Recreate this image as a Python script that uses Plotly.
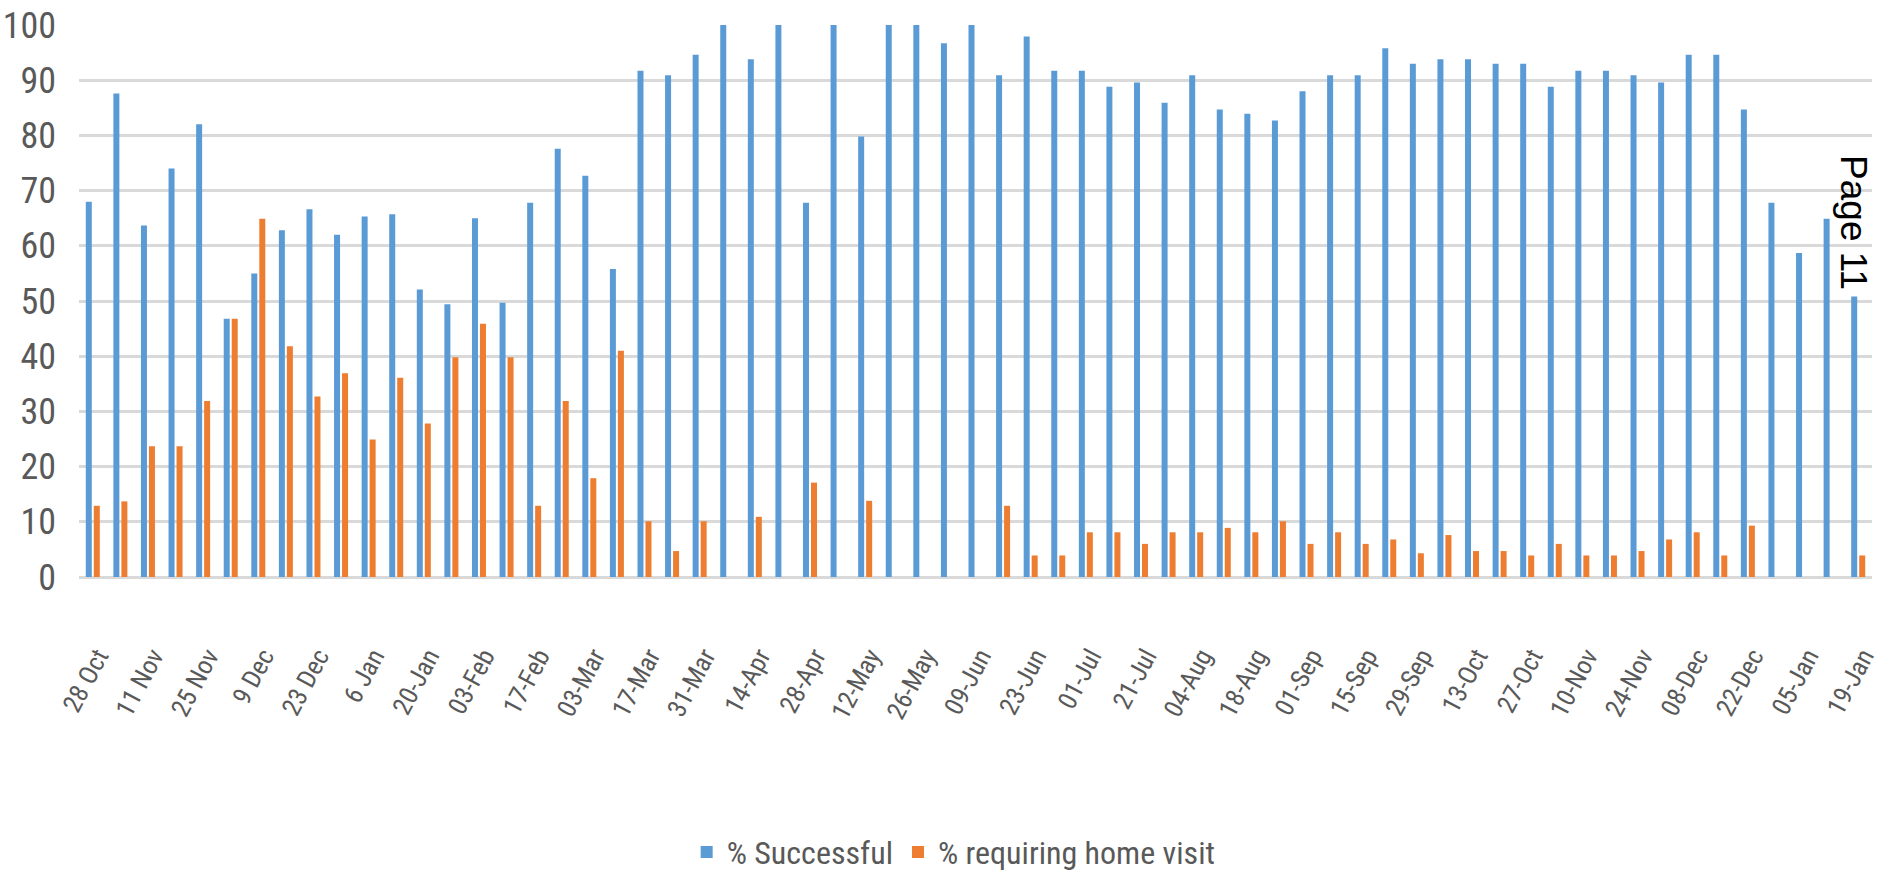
import plotly.graph_objects as go

# Weekly categories (every other one is labelled on the axis)
categories = [
    "28 Oct", "4 Nov", "11 Nov", "18 Nov", "25 Nov", "2 Dec", "9 Dec", "16 Dec",
    "23 Dec", "30 Dec", "6 Jan", "13 Jan", "20-Jan", "27-Jan", "03-Feb", "10-Feb",
    "17-Feb", "24-Feb", "03-Mar", "10-Mar", "17-Mar", "24-Mar", "31-Mar", "07-Apr",
    "14-Apr", "21-Apr", "28-Apr", "05-May", "12-May", "19-May", "26-May", "02-Jun",
    "09-Jun", "16-Jun", "23-Jun", "30-Jun", "01-Jul", "14-Jul", "21-Jul", "28-Jul",
    "04-Aug", "11-Aug", "18-Aug", "25-Aug", "01-Sep", "08-Sep", "15-Sep", "22-Sep",
    "29-Sep", "06-Oct", "13-Oct", "20-Oct", "27-Oct", "03-Nov", "10-Nov", "17-Nov",
    "24-Nov", "01-Dec", "08-Dec", "15-Dec", "22-Dec", "29-Dec", "05-Jan", "12-Jan",
    "19-Jan",
]

tick_labels = categories[::2]

pct_successful = [
    68, 87.6, 63.7, 74, 82, 46.8, 55, 62.8, 66.6, 62, 65.3, 65.7, 52.1, 49.4, 65, 49.7,
    67.8, 77.6, 72.7, 55.8, 91.7, 90.9, 94.6, 100, 93.8, 100, 67.8, 100, 79.8, 100,
    100, 96.7, 100, 90.9, 97.9, 91.7, 91.7, 88.8, 89.6, 85.9, 90.9, 84.7, 83.9, 82.7,
    88, 90.9, 90.9, 95.8, 93, 93.8, 93.8, 93, 93, 88.8, 91.7, 91.7, 90.9, 89.6, 94.6,
    94.6, 84.7, 67.8, 58.7, 64.9, 50.8,
]

pct_home_visit = [
    12.9, 13.7, 23.7, 23.7, 31.9, 46.8, 64.9, 41.8, 32.7, 36.9, 24.9, 36.1, 27.8, 39.8,
    45.9, 39.8, 12.9, 31.9, 17.9, 41, 10.1, 4.7, 10.1, None, 10.9, None, 17.1, None,
    13.8, None, None, None, None, 12.9, 3.9, 3.9, 8.1, 8.1, 6, 8.1, 8.1, 8.9, 8.1,
    10.1, 6, 8.1, 6, 6.8, 4.3, 7.6, 4.7, 4.7, 3.9, 6, 3.9, 3.9, 4.7, 6.8, 8.1, 3.9,
    9.3, None, None, None, 3.9,
]

series_names = ["% Successful", "% requiring home visit"]

FONT = "Liberation Sans Narrow, Arial Narrow, Roboto Condensed, Liberation Sans, sans-serif"
GRAY = "#595959"

fig = go.Figure()
fig.add_trace(go.Bar(x=categories, y=pct_successful, name=series_names[0],
                     marker=dict(color="#5b9bd5", line=dict(width=0))))
fig.add_trace(go.Bar(x=categories, y=pct_home_visit, name=series_names[1],
                     marker=dict(color="#ed7d31", line=dict(width=0))))

fig.update_layout(
    width=1881, height=874,
    margin=dict(l=79, r=9, t=25, b=297, autoexpand=False),
    paper_bgcolor="white", plot_bgcolor="white",
    barmode="group", bargap=0.42, bargroupgap=0.25,
    font=dict(family=FONT, color=GRAY),
    showlegend=True,
    legend=dict(orientation="h", x=0.507, xref="container", xanchor="center",
                y=0.025, yref="container", yanchor="middle",
                font=dict(family=FONT, size=32, color=GRAY),
                itemwidth=30, tracegroupgap=0),
    xaxis=dict(
        type="category", automargin=False,
        tickmode="array", tickvals=tick_labels, ticktext=tick_labels,
        tickangle=-62, tickfont=dict(family=FONT, size=26, color=GRAY),
        showgrid=False, showline=False, zeroline=False, ticks="",
        ticklabelstandoff=58, ticklabelshift=5,
    ),
    yaxis=dict(
        range=[0, 100], tickmode="linear", tick0=0, dtick=10, automargin=False,
        showgrid=True, gridcolor="#d9d9d9", gridwidth=3,
        zeroline=True, zerolinecolor="#d9d9d9", zerolinewidth=3,
        showline=False, ticks="",
        tickfont=dict(family=FONT, size=36, color=GRAY),
        ticklabelstandoff=22,
    ),
    annotations=[dict(
        text="Page 11", textangle=90, showarrow=False,
        xref="paper", yref="paper", x=1.0, y=0.643,
        xanchor="center", yanchor="middle", xshift=-18,
        font=dict(family="Liberation Sans, Arial, sans-serif", size=37, color="black"),
    )],
)

fig.write_html("out.html", config={"displayModeBar": False},
               post_script="document.body.style.margin='0px';")
